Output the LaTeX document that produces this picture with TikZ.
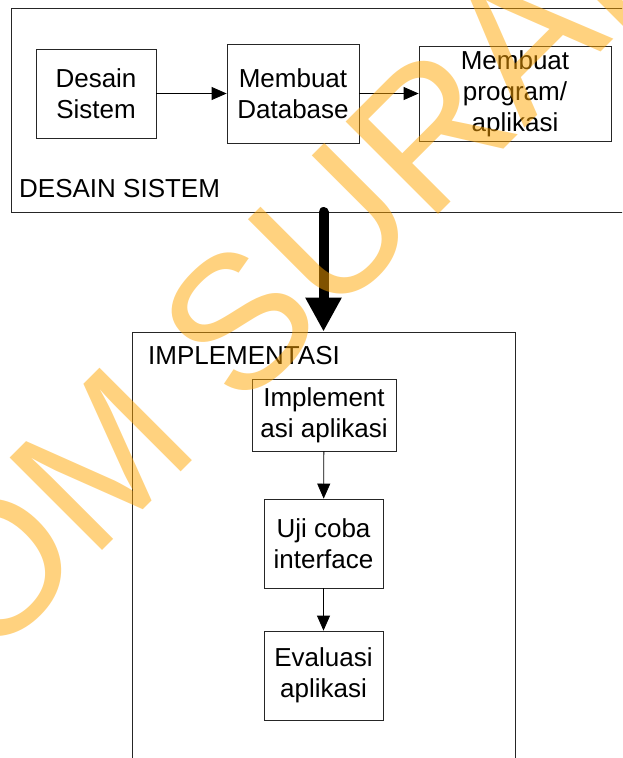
\documentclass[tikz,border=0pt]{standalone}
\usepackage{fontspec}
\setmainfont{Liberation Sans}
\usetikzlibrary{arrows.meta}
\definecolor{wmorange}{RGB}{255,165,0}
\begin{document}
\begin{tikzpicture}[x=1pt,y=-1pt,
  box/.style={draw=black!85, line width=0.8pt, inner sep=0pt, align=center,
              font=\fontsize{26}{31}\selectfont},
  lbl/.style={anchor=base west, inner sep=0pt, font=\fontsize{26}{31}\selectfont},
  flow/.style={draw=black, line width=0.8pt, -{Triangle[length=15pt,width=13pt]}},
  bigflow/.style={draw=black, line width=10pt, line cap=round,
                  -{Triangle[length=34pt,width=34pt]}},
  wmark/.style={anchor=base west, rotate=45, inner sep=0pt, text=wmorange,
                text opacity=0.5, font=\fontsize{190}{190}\selectfont}]
\useasboundingbox (0,0) rectangle (622,758);
\clip (0,0) rectangle (622,758);
% outer frames
\node[box, minimum width=629pt, minimum height=204pt] (ds) at (325.5,110) {};
\node[box, minimum width=383pt, minimum height=468pt] (im) at (323.5,566) {};
\node[lbl] (dslbl) at (19,197) {DESAIN SISTEM};
\node[lbl] (imlbl) at (148,364) {IMPLEMENTASI};
% top row
\node[box, minimum width=120pt, minimum height=89pt] (n1) at (96,93.5) {Desain\\Sistem};
\node[box, minimum width=132pt, minimum height=99pt] (n2) at (293,93.5) {Membuat\\Database};
\node[box, minimum width=192pt, minimum height=95pt] (n3) at (515,93.5) {Membuat\\program/\\aplikasi};
% lower column
\node[box, minimum width=144pt, minimum height=72pt] (n4) at (324,415) {Implement\\asi aplikasi};
\node[box, minimum width=119pt, minimum height=89pt] (n5) at (323.5,543.5) {Uji coba\\interface};
\node[box, minimum width=119pt, minimum height=89pt] (n6) at (323.5,675.5) {Evaluasi\\aplikasi};
% connectors
\draw[flow] (n1) -- (n2);
\draw[flow] (n2) -- (n3);
\draw[flow] (n4) -- (n5);
\draw[flow] (n5) -- (n6);
\coordinate (bigstart) at (323.5,212);
\draw[bigflow] (bigstart) -- (im.north);
% watermark
\node[wmark] (wm) at (-311.5,964.9) {STIKOM SURABAYA};
\end{tikzpicture}
\end{document}
